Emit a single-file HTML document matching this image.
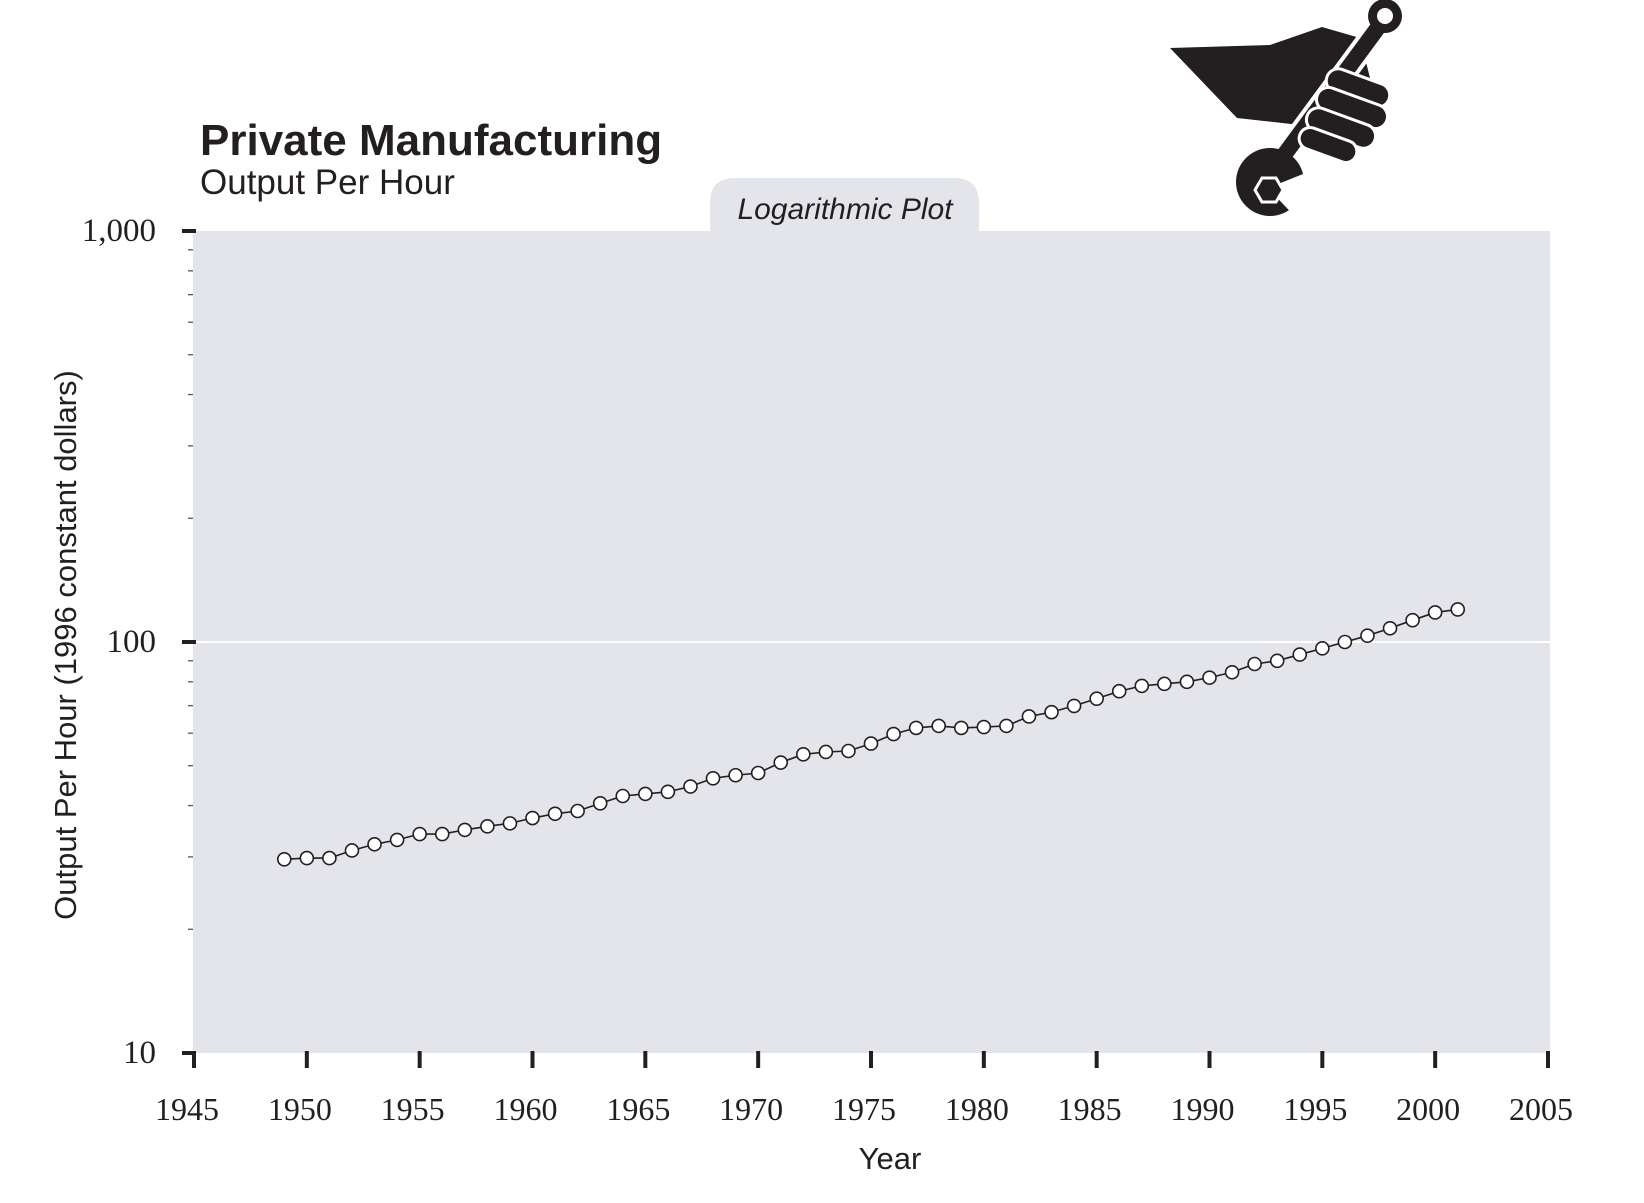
<!DOCTYPE html>
<html><head><meta charset="utf-8"><style>
body{margin:0;background:#fff;}
svg{display:block}
</style></head><body>
<svg width="1644" height="1203" viewBox="0 0 1644 1203" xmlns="http://www.w3.org/2000/svg">
<g>
  <path d="M1170,48 L1270,45 L1322,27 L1360,38 L1370,78 L1340,125 L1300,125 L1237,118 Z" fill="#231f20"/>
  <line x1="1262" y1="185" x2="1385" y2="18" stroke="#fff" stroke-width="24"/>
  <line x1="1262" y1="185" x2="1385" y2="18" stroke="#231f20" stroke-width="16"/>
  <circle cx="1385" cy="16" r="17" fill="#231f20"/>
  <circle cx="1385" cy="16" r="8" fill="#fff"/>
  <rect x="1325" y="76" width="66" height="24" rx="12" fill="#231f20" stroke="#fff" stroke-width="3" transform="rotate(20 1358 88)"/>
  <rect x="1315" y="96" width="74" height="24" rx="12" fill="#231f20" stroke="#fff" stroke-width="3" transform="rotate(20 1352 108)"/>
  <rect x="1305" y="116" width="72" height="24" rx="12" fill="#231f20" stroke="#fff" stroke-width="3" transform="rotate(20 1341 128)"/>
  <rect x="1298" y="134" width="60" height="22" rx="11" fill="#231f20" stroke="#fff" stroke-width="3" transform="rotate(20 1328 145)"/>
  <circle cx="1270" cy="182" r="34" fill="#231f20"/>
  <path d="M1268,188 L1308,172 L1300,222 Z" fill="#fff"/>
  <polygon points="1283,190 1276,202 1262,202 1255,190 1262,178 1276,178" fill="#231f20" stroke="#fff" stroke-width="3"/>
</g>
<text x="200" y="155" font-family="Liberation Sans, sans-serif" font-weight="bold" font-size="44" fill="#231f20">Private Manufacturing</text>
<text x="200" y="194" font-family="Liberation Sans, sans-serif" font-size="35" fill="#231f20">Output Per Hour</text>
<path d="M710,231 L710,203 Q710,178 735,178 L954,178 Q979,178 979,203 L979,231 Z" fill="#e4e5ea"/>
<text x="845" y="219" text-anchor="middle" font-family="Liberation Sans, sans-serif" font-style="italic" font-size="30" fill="#231f20">Logarithmic Plot</text>
<rect x="193" y="231" width="1357" height="822" fill="#e4e5ea"/>
<g id="axes"></g>
<g id="series"></g>
<text x="890" y="1169" text-anchor="middle" font-family="Liberation Sans, sans-serif" font-size="31" fill="#231f20">Year</text>
<text transform="translate(76,645) rotate(-90)" text-anchor="middle" font-family="Liberation Sans, sans-serif" font-size="31" fill="#231f20">Output Per Hour (1996 constant dollars)</text>
</svg>
<script>
const years=[1949,1950,1951,1952,1953,1954,1955,1956,1957,1958,1959,1960,1961,1962,1963,1964,1965,1966,1967,1968,1969,1970,1971,1972,1973,1974,1975,1976,1977,1978,1979,1980,1981,1982,1983,1984,1985,1986,1987,1988,1989,1990,1991,1992,1993,1994,1995,1996,1997,1998,1999,2000,2001];
const values=[29.6,29.8,29.8,31.1,32.2,33.0,34.1,34.1,34.9,35.6,36.2,37.3,38.2,38.8,40.5,42.2,42.7,43.2,44.5,46.6,47.4,48.0,50.9,53.3,54.0,54.3,56.6,59.7,61.8,62.5,61.8,62.1,62.5,65.9,67.5,69.9,72.8,75.9,78.2,79.1,80.0,81.9,84.4,88.4,90.0,93.2,96.5,100,103.6,108,113,118,120];
const xTicks=[1945,1950,1955,1960,1965,1970,1975,1980,1985,1990,1995,2000,2005];
const yMajor=[10,100,1000];
const yMajorLabels=["10","100","1,000"];
const NS="http://www.w3.org/2000/svg";
const X=y=>194+(y-1945)*(1548-194)/60;
const Y=v=>1053-(Math.log10(v)-1)*411;
const axes=document.getElementById('axes'), ser=document.getElementById('series');
function mk(tag,attrs,parent){const e=document.createElementNS(NS,tag);for(const k in attrs)e.setAttribute(k,attrs[k]);parent.appendChild(e);return e;}
let g=mk('line',{x1:193,x2:1550,y1:Y(100),y2:Y(100),stroke:'#fff','stroke-width':2},axes);


for(let d=1;d<=2;d++){for(let m=2;m<=9;m++){const v=m*Math.pow(10,d);
 const t=mk('line',{x1:188,x2:193,y1:Y(v),y2:Y(v),stroke:'#555','stroke-width':1.3},axes);
 
 }}
yMajor.forEach((v,i)=>{
 const t=mk('line',{x1:182,x2:196,y1:Y(v),y2:Y(v),stroke:'#231f20','stroke-width':4},axes);
 
 
 const l=mk('text',{x:156,y:Y(v)+10,'text-anchor':'end','font-family':'Liberation Serif, serif','font-size':33,fill:'#231f20'},axes);
 l.textContent=yMajorLabels[i];
 
 
});
xTicks.forEach(t=>{
 const k=mk('line',{x1:X(t),x2:X(t),y1:1051,y2:1068,stroke:'#231f20','stroke-width':4},axes);
 
 
 const l=mk('text',{x:X(t)-7,y:1120,'text-anchor':'middle','font-family':'Liberation Serif, serif','font-size':32,fill:'#231f20'},axes);
 l.textContent=t;
 
 
});
const pts=years.map((y,i)=>X(y)+','+Y(values[i])).join(' ');
const pl=mk('polyline',{points:pts,fill:'none',stroke:'#231f20','stroke-width':1.6},ser);


years.forEach((y,i)=>{
 const c=mk('circle',{cx:X(y),cy:Y(values[i]),r:6.5,fill:'#fff',stroke:'#231f20','stroke-width':1.6},ser);
 
 
});
</script>
</body></html>
